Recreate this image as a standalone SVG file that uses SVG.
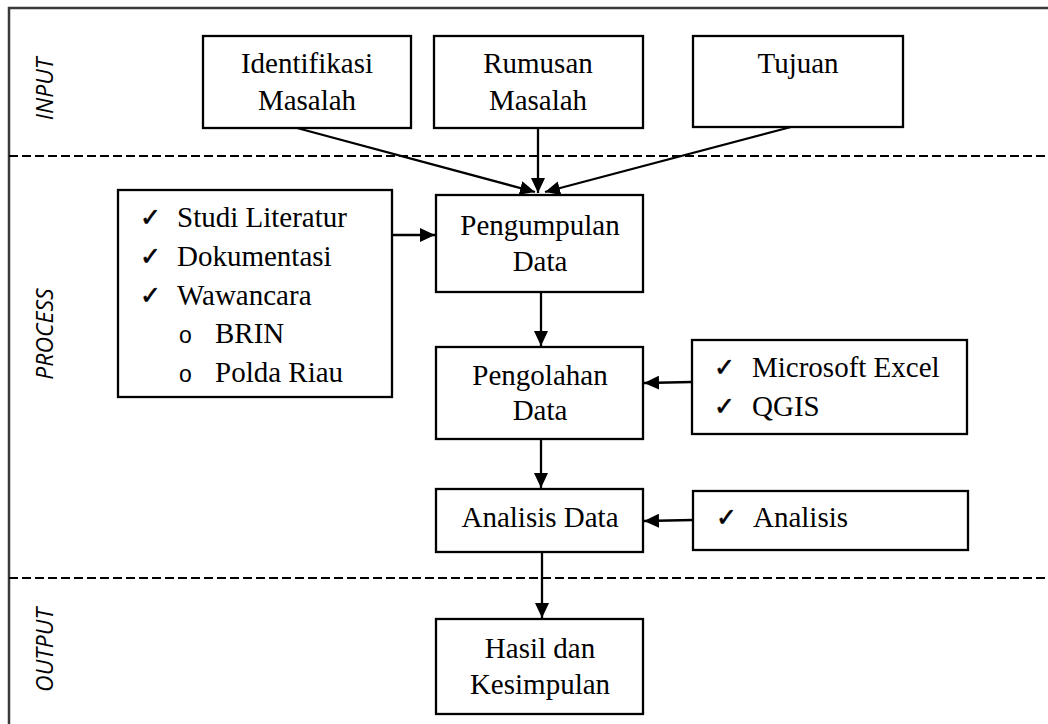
<svg xmlns="http://www.w3.org/2000/svg" width="1048" height="724" viewBox="0 0 1048 724">
<style>
  .box { fill: #fff; stroke: #000; stroke-width: 2.3; }
  .t { font-family: "Liberation Serif", "Times New Roman", serif; font-size: 29px; fill: #000; }
  .c { text-anchor: middle; }
  .chk { font-family: "DejaVu Sans", sans-serif; font-size: 25px; font-weight: bold; fill: #000; stroke: #000; stroke-width: 0.6; }
  .bul { font-family: "Liberation Sans", Arial, sans-serif; font-size: 23px; fill: #000; }
  .lab { font-family: "Open Sans", "Liberation Sans", sans-serif; font-style: italic; font-size: 23px; fill: #000; text-anchor: middle; }
  .dash { stroke: #000; stroke-width: 2; stroke-dasharray: 9 4; fill: none; }
  .frame { stroke: #3a3a3a; stroke-width: 2.5; fill: none; }
  .conn line { stroke: #000; stroke-width: 2.3; marker-end: url(#ah); }
</style>
<defs>
  <marker id="ah" markerUnits="userSpaceOnUse" markerWidth="16" markerHeight="14" refX="15" refY="7" orient="auto">
    <path d="M0,0 L15,7 L0,14 z" fill="#000"/>
  </marker>
</defs>
<rect width="1048" height="724" fill="#fff"/>

<g id="frame">
  <polyline class="frame" points="9,724 9,8 1048,8"/>
  <line class="dash" x1="9" y1="156" x2="1048" y2="156"/>
  <line class="dash" x1="9" y1="578" x2="1048" y2="578"/>
  <text class="lab" transform="translate(53,89) rotate(-90)">INPUT</text>
  <text class="lab" transform="translate(53,334) rotate(-90)">PROCESS</text>
  <text class="lab" transform="translate(53,650) rotate(-90)">OUTPUT</text>
</g>

<g id="identifikasi">
  <rect class="box" x="203" y="36" width="208" height="92"/>
  <text class="t c" x="307" y="73">Identifikasi</text>
  <text class="t c" x="307" y="110">Masalah</text>
</g>
<g id="rumusan">
  <rect class="box" x="434" y="36" width="209" height="92"/>
  <text class="t c" x="538" y="73">Rumusan</text>
  <text class="t c" x="538" y="110">Masalah</text>
</g>
<g id="tujuan">
  <rect class="box" x="693" y="36" width="210" height="91"/>
  <text class="t c" x="798" y="73">Tujuan</text>
</g>

<g id="metode">
  <rect class="box" x="118" y="190" width="274" height="207"/>
  <text class="chk" x="140" y="226">✓</text>
  <text class="t" x="177" y="227">Studi Literatur</text>
  <text class="chk" x="140" y="265">✓</text>
  <text class="t" x="177" y="266">Dokumentasi</text>
  <text class="chk" x="140" y="304">✓</text>
  <text class="t" x="177" y="305">Wawancara</text>
  <text class="bul" x="179" y="343">o</text>
  <text class="t" x="215" y="343">BRIN</text>
  <text class="bul" x="179" y="382">o</text>
  <text class="t" x="215" y="382">Polda Riau</text>
</g>

<g id="pengumpulan">
  <rect class="box" x="436" y="195" width="207" height="97"/>
  <text class="t c" x="540" y="235">Pengumpulan</text>
  <text class="t c" x="540" y="271">Data</text>
</g>

<g id="pengolahan">
  <rect class="box" x="436" y="347" width="207" height="92"/>
  <text class="t c" x="540" y="385">Pengolahan</text>
  <text class="t c" x="540" y="420">Data</text>
</g>

<g id="tools">
  <rect class="box" x="692" y="340" width="275" height="94"/>
  <text class="chk" x="714" y="376">✓</text>
  <text class="t" x="752" y="377">Microsoft Excel</text>
  <text class="chk" x="714" y="415">✓</text>
  <text class="t" x="752" y="416">QGIS</text>
</g>

<g id="analisis">
  <rect class="box" x="436" y="489" width="207" height="63"/>
  <text class="t c" x="540" y="527">Analisis Data</text>
</g>

<g id="analisis-tool">
  <rect class="box" x="693" y="491" width="275" height="59"/>
  <text class="chk" x="716" y="526">✓</text>
  <text class="t" x="753" y="527">Analisis</text>
</g>

<g id="hasil">
  <rect class="box" x="436" y="619" width="207" height="95"/>
  <text class="t c" x="540" y="658">Hasil dan</text>
  <text class="t c" x="540" y="694">Kesimpulan</text>
</g>

<g id="connectors" class="conn">
  <line x1="297" y1="128" x2="535" y2="192"/>
  <line x1="538" y1="128" x2="538" y2="193"/>
  <line x1="791" y1="127" x2="545" y2="192"/>
  <line x1="392" y1="235" x2="435" y2="235"/>
  <line x1="541" y1="292" x2="541" y2="346"/>
  <line x1="692" y1="382" x2="644" y2="383"/>
  <line x1="541" y1="439" x2="541" y2="488"/>
  <line x1="693" y1="520" x2="644" y2="521"/>
  <line x1="542" y1="552" x2="542" y2="618"/>
</g>
</svg>
